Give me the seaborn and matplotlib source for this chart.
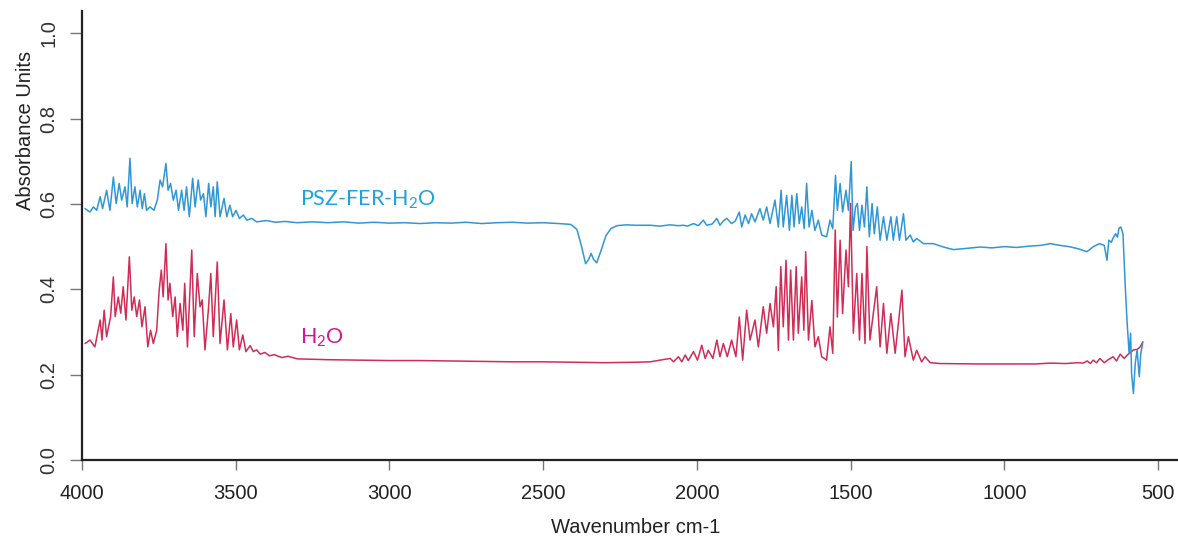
import matplotlib
matplotlib.use("Agg")
import matplotlib.pyplot as plt
import seaborn as sns
import pandas as pd

# ---------------- data ----------------
h2o_wn = [3990, 3974, 3958, 3941, 3935, 3928, 3920, 3907, 3898, 3892, 3882, 3874, 3866, 3857,
          3846, 3838, 3830, 3822, 3813, 3805, 3795, 3786, 3777, 3768, 3757, 3749, 3742, 3736,
          3727, 3720, 3714, 3705, 3697, 3690, 3681, 3672, 3666, 3657, 3643, 3635, 3625, 3616,
          3609, 3600, 3589, 3581, 3573, 3560, 3551, 3538, 3527, 3516, 3508, 3497, 3488, 3477,
          3467, 3453, 3443, 3432, 3420, 3405, 3390, 3375, 3350, 3330, 3300, 3250, 3200, 3100,
          3000, 2900, 2800, 2700, 2600, 2500, 2400, 2300, 2200, 2152, 2087, 2076, 2060, 2049,
          2038, 2028, 2011, 1998, 1984, 1973, 1963, 1948, 1935, 1925, 1914, 1901, 1887, 1873,
          1862, 1851, 1838, 1827, 1811, 1800, 1784, 1773, 1762, 1751, 1742, 1735, 1727, 1719,
          1710, 1702, 1695, 1686, 1677, 1670, 1659, 1652, 1646, 1637, 1626, 1616, 1605, 1594,
          1578, 1567, 1558, 1550, 1543, 1534, 1526, 1515, 1507, 1500, 1491, 1480, 1471, 1463,
          1453, 1447, 1437, 1426, 1415, 1404, 1393, 1382, 1369, 1355, 1333, 1323, 1312, 1296,
          1285, 1269, 1258, 1241, 1209, 1079, 1000, 900, 851, 800, 760, 744, 730, 720, 711,
          700, 689, 675, 660, 646, 635, 623, 610, 600, 591, 580, 568, 558, 549]
h2o_abs = [0.273, 0.281, 0.265, 0.328, 0.281, 0.351, 0.289, 0.336, 0.429, 0.336, 0.382, 0.344, 0.406, 0.328,
           0.476, 0.351, 0.382, 0.336, 0.375, 0.312, 0.359, 0.265, 0.304, 0.273, 0.304, 0.398, 0.445, 0.382,
           0.507, 0.375, 0.414, 0.336, 0.382, 0.289, 0.367, 0.304, 0.414, 0.265, 0.492, 0.289, 0.437, 0.359,
           0.375, 0.258, 0.351, 0.437, 0.289, 0.464, 0.273, 0.375, 0.258, 0.343, 0.265, 0.328, 0.258, 0.293,
           0.254, 0.268, 0.254, 0.258, 0.248, 0.252, 0.244, 0.247, 0.240, 0.243, 0.237, 0.236, 0.235, 0.234,
           0.233, 0.233, 0.232, 0.231, 0.230, 0.230, 0.229, 0.228, 0.229, 0.230, 0.238, 0.230, 0.242, 0.230,
           0.246, 0.233, 0.254, 0.234, 0.269, 0.238, 0.257, 0.238, 0.281, 0.242, 0.273, 0.242, 0.281, 0.242,
           0.335, 0.234, 0.351, 0.281, 0.328, 0.265, 0.359, 0.297, 0.367, 0.312, 0.406, 0.257, 0.453, 0.312,
           0.468, 0.281, 0.445, 0.281, 0.453, 0.297, 0.429, 0.304, 0.488, 0.281, 0.374, 0.265, 0.289, 0.242,
           0.234, 0.312, 0.250, 0.539, 0.335, 0.515, 0.343, 0.492, 0.406, 0.601, 0.297, 0.437, 0.281, 0.437,
           0.273, 0.500, 0.281, 0.343, 0.406, 0.265, 0.367, 0.250, 0.343, 0.250, 0.398, 0.242, 0.289, 0.234,
           0.257, 0.230, 0.242, 0.228, 0.226, 0.225, 0.225, 0.225, 0.227, 0.226, 0.228, 0.227, 0.232, 0.226, 0.234,
           0.228, 0.238, 0.228, 0.236, 0.242, 0.232, 0.248, 0.238, 0.246, 0.251, 0.258, 0.259, 0.265, 0.277]

psz_wn = [3990, 3974, 3963, 3952, 3941, 3933, 3920, 3909, 3898, 3889, 3879, 3871, 3860, 3853,
          3844, 3837, 3828, 3820, 3811, 3804, 3797, 3790, 3779, 3766, 3755, 3746, 3738, 3727,
          3720, 3712, 3703, 3694, 3686, 3676, 3668, 3660, 3651, 3640, 3632, 3622, 3614, 3605,
          3597, 3588, 3581, 3573, 3567, 3560, 3551, 3538, 3529, 3519, 3510, 3499, 3488, 3475,
          3464, 3448, 3432, 3400, 3370, 3340, 3300, 3250, 3200, 3150, 3100, 3050, 3000, 2950,
          2900, 2850, 2800, 2750, 2700, 2650, 2600, 2550, 2500, 2450, 2410, 2390, 2375, 2362,
          2352, 2344, 2336, 2326, 2312, 2296, 2280, 2260, 2230, 2200, 2152, 2120, 2087, 2060,
          2044, 2030, 2011, 1995, 1979, 1968, 1950, 1935, 1925, 1914, 1903, 1887, 1875, 1862,
          1854, 1843, 1832, 1822, 1811, 1795, 1784, 1773, 1762, 1746, 1735, 1726, 1719, 1708,
          1699, 1691, 1684, 1675, 1667, 1659, 1651, 1643, 1635, 1626, 1616, 1605, 1594, 1578,
          1567, 1558, 1549, 1543, 1534, 1526, 1515, 1507, 1498, 1492, 1484, 1478, 1471, 1463,
          1455, 1447, 1439, 1430, 1423, 1413, 1404, 1393, 1382, 1369, 1361, 1350, 1341, 1328,
          1320, 1306, 1296, 1285, 1263, 1231, 1198, 1166, 1120, 1079, 1040, 1000, 960, 920,
          880, 851, 820, 790, 760, 731, 710, 690, 675, 666, 660, 652, 646, 638, 632, 627, 621,
          614, 607, 601, 594, 589, 586, 580, 574, 568, 561, 556, 550]
psz_abs = [0.589, 0.581, 0.593, 0.585, 0.617, 0.589, 0.632, 0.585, 0.663, 0.601, 0.648, 0.609, 0.640, 0.593,
           0.707, 0.601, 0.640, 0.593, 0.632, 0.589, 0.624, 0.585, 0.593, 0.585, 0.609, 0.656, 0.640, 0.695,
           0.632, 0.648, 0.609, 0.632, 0.585, 0.632, 0.585, 0.640, 0.570, 0.660, 0.593, 0.656, 0.609, 0.624,
           0.570, 0.648, 0.593, 0.640, 0.570, 0.652, 0.570, 0.613, 0.570, 0.597, 0.570, 0.585, 0.566, 0.574,
           0.562, 0.566, 0.558, 0.561, 0.557, 0.559, 0.556, 0.558, 0.556, 0.558, 0.555, 0.557, 0.555, 0.556,
           0.554, 0.556, 0.555, 0.557, 0.554, 0.556, 0.557, 0.555, 0.556, 0.554, 0.552, 0.540, 0.500, 0.460,
           0.470, 0.484, 0.470, 0.462, 0.490, 0.525, 0.542, 0.549, 0.551, 0.550, 0.550, 0.548, 0.551, 0.549,
           0.550, 0.548, 0.554, 0.549, 0.562, 0.550, 0.553, 0.566, 0.550, 0.560, 0.566, 0.554, 0.560, 0.581,
           0.546, 0.574, 0.554, 0.577, 0.558, 0.589, 0.562, 0.593, 0.554, 0.609, 0.546, 0.632, 0.546, 0.620,
           0.538, 0.620, 0.546, 0.624, 0.554, 0.593, 0.542, 0.648, 0.546, 0.585, 0.538, 0.562, 0.527, 0.523,
           0.562, 0.542, 0.667, 0.585, 0.648, 0.581, 0.632, 0.585, 0.699, 0.538, 0.593, 0.601, 0.538, 0.597,
           0.546, 0.640, 0.523, 0.601, 0.530, 0.593, 0.515, 0.570, 0.515, 0.570, 0.515, 0.570, 0.515, 0.577,
           0.515, 0.527, 0.511, 0.519, 0.507, 0.507, 0.499, 0.493, 0.496, 0.499, 0.497, 0.500, 0.498, 0.501,
           0.503, 0.507, 0.503, 0.500, 0.495, 0.488, 0.500, 0.507, 0.503, 0.468, 0.515, 0.510, 0.520, 0.530, 0.522, 0.543, 0.546,
           0.530, 0.414, 0.328, 0.250, 0.297, 0.203, 0.156, 0.227, 0.258, 0.195, 0.250, 0.273]

x_ticks = [4000, 3500, 3000, 2500, 2000, 1500, 1000, 500]
y_ticks = [0.0, 0.2, 0.4, 0.6, 0.8, 1.0]
x_label = "Wavenumber cm-1"
y_label = "Absorbance Units"
label_psz = "PSZ-FER-H$_2$O"
label_h2o = "H$_2$O"

# ---------------- styling ----------------
sns.set_theme(style="ticks")
plt.rcParams["font.family"] = ["Liberation Sans", "DejaVu Sans"]
plt.rcParams["mathtext.default"] = "regular"

W, H = 1178, 540
fig = plt.figure(figsize=(W / 100, H / 100), dpi=100)
ax = fig.add_axes([82 / W, 80 / H, 1 - 82 / W, 449 / H])

df_h2o = pd.DataFrame({"wn": h2o_wn, "abs": h2o_abs})
df_psz = pd.DataFrame({"wn": psz_wn, "abs": psz_abs})

sns.lineplot(data=df_h2o, x="wn", y="abs", ax=ax, color="#cf2d55", lw=1.1,
             estimator=None, sort=False)
sns.lineplot(data=df_psz, x="wn", y="abs", ax=ax, color="#2f97d3", lw=1.1,
             estimator=None, sort=False)

ax.set_xlim(4000, 435)
ax.set_ylim(0, 1.052)
ax.set_xticks(x_ticks)
ax.set_xticklabels([str(t) for t in x_ticks])
ax.set_yticks(y_ticks)
ax.set_yticklabels([f"{t:.1f}" for t in y_ticks], rotation=90, va="center")

for side in ("top", "right"):
    ax.spines[side].set_visible(False)
for side in ("left", "bottom"):
    ax.spines[side].set_color("#222222")
    ax.spines[side].set_linewidth(1.6)

ax.tick_params(axis="x", length=7, width=1.0, color="#777777", pad=10,
               labelsize=14.5, labelcolor="#222222")
ax.tick_params(axis="y", length=9, width=1.0, color="#777777", pad=8,
               labelsize=14.5, labelcolor="#333333")

ax.set_xlabel(x_label, fontsize=14.5, color="#222222")
ax.set_ylabel(y_label, fontsize=14.5, color="#222222")
ax.xaxis.set_label_coords(0.505, -0.13)
ax.yaxis.set_label_coords(-0.043, 0.735)

ax.text(3290, 0.609, label_psz, color="#1fa3df", fontsize=15.5,
        family=["Lato", "DejaVu Sans"], ha="left", va="center")
ax.text(3290, 0.286, label_h2o, color="#d01a94", fontsize=15.5,
        family=["Lato", "DejaVu Sans"], ha="left", va="center")

fig.savefig("out.png", dpi=100)
